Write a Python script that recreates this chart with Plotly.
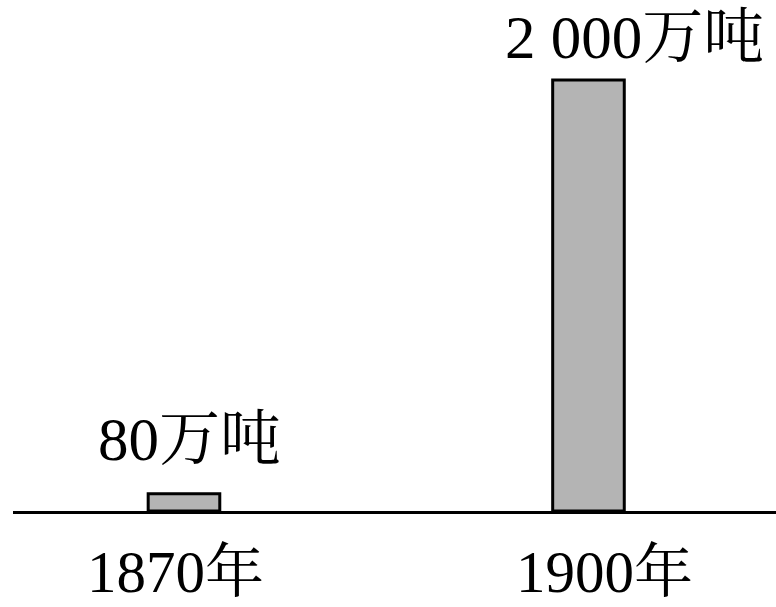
import plotly.graph_objects as go

# Output figures (万吨)
years = ["1870年", "1900年"]
output = [80, 2000]
value_labels = ["80万吨", "2 000万吨"]

FONT = "Liberation Serif, 'Noto Serif CJK SC', 'Noto Sans CJK SC', serif"

fig = go.Figure()
fig.add_trace(go.Bar(
    x=years,
    y=output,
    width=0.177,
    marker=dict(color="#b4b4b4", line=dict(color="black", width=3)),
    hoverinfo="skip",
))

# Value labels above the bars
label_shift = [6, 46]
label_gap = [20, 8]
for yr, val, txt, dx, gap in zip(years, output, value_labels, label_shift, label_gap):
    fig.add_annotation(
        x=yr, y=val, text=txt, showarrow=False,
        xanchor="center", yanchor="bottom", xshift=dx, yshift=gap,
        borderpad=0,
        font=dict(family=FONT, size=61, color="black"),
    )

# Year labels under the baseline
year_shift = [-8, 16]
for yr, dx in zip(years, year_shift):
    fig.add_annotation(
        x=yr, y=0, text=yr, showarrow=False,
        xanchor="center", yanchor="top", xshift=dx, yshift=-27,
        borderpad=0,
        font=dict(family=FONT, size=59, color="black"),
    )

fig.update_layout(
    width=776, height=607,
    margin=dict(l=13, r=0, t=0, b=95.5),
    paper_bgcolor="white", plot_bgcolor="white",
    showlegend=False,
    xaxis=dict(
        type="category", range=[-0.4227, 1.4636],
        showticklabels=False, showgrid=False, zeroline=False,
        showline=True, linecolor="black", linewidth=3,
        fixedrange=True,
    ),
    yaxis=dict(
        range=[0, 2370.8], visible=False, showgrid=False, zeroline=False,
        fixedrange=True,
    ),
)

fig.write_html("out.html")
